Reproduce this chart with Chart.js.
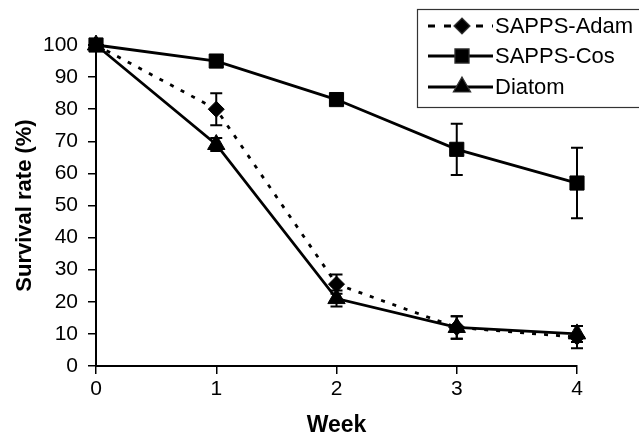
<!DOCTYPE html>
<html>
<head>
<meta charset="utf-8">
<script src="https://cdn.jsdelivr.net/npm/chart.js@4"></script>
<style>
  html, body { margin: 0; padding: 0; background: #fff; }
  #wrap { width: 639px; height: 441px; }
</style>
</head>
<body>
<div id="wrap"><canvas id="survivalChart" width="639" height="441"></canvas></div>
<script>
// weeks on the x axis and survival (%) per treatment, with standard errors
const weeks = [0, 1, 2, 3, 4];
const adamSurvival = [100, 80, 25.5, 12, 9];
const adamError = [0, 5, 3, 3.5, 3.5];
const cosSurvival = [100, 95, 83, 67.5, 57];
const cosError = [0, 0, 0, 8, 11];
const diatomSurvival = [100, 69, 21, 12, 10];
const diatomError = [0, 2, 2.5, 3.5, 2.5];
const seriesNames = ["SAPPS-Adam", "SAPPS-Cos", "Diatom"];

const FONT = "'Liberation Sans', Arial, sans-serif";

function toPoints(vals) {
    return weeks.map((w, i) => ({ x: w, y: vals[i] }));
}

// vertical error bars with caps
const errorBars = {
    id: "errorBars",
    afterDatasetsDraw(chart) {
        const ctx = chart.ctx;
        const yScale = chart.scales.y;
        chart.data.datasets.forEach((ds, i) => {
            const meta = chart.getDatasetMeta(i);
            ds.errors.forEach((e, j) => {
                if (!e) return;
                const v = ds.data[j].y;
                const x = meta.data[j].x;
                const top = yScale.getPixelForValue(v + e);
                const bot = yScale.getPixelForValue(v - e);
                ctx.save();
                ctx.strokeStyle = "#000";
                ctx.lineWidth = 2;
                ctx.beginPath();
                ctx.moveTo(x, top);
                ctx.lineTo(x, bot);
                ctx.moveTo(x - 6, top);
                ctx.lineTo(x + 6, top);
                ctx.moveTo(x - 6, bot);
                ctx.lineTo(x + 6, bot);
                ctx.stroke();
                ctx.restore();
            });
        });
    },
};

// boxed legend in the top right corner
const boxLegend = {
    id: "boxLegend",
    afterDraw(chart) {
        const ctx = chart.ctx;
        const rows = [26, 56, 87];
        ctx.save();
        ctx.strokeStyle = "#333";
        ctx.lineWidth = 1.2;
        ctx.strokeRect(417.5, 9.5, 240, 98);
        chart.data.datasets.forEach((ds, i) => {
            const y = rows[i];
            ctx.save();
            ctx.strokeStyle = "#000";
            ctx.lineWidth = ds.borderWidth;
            ctx.setLineDash(i === 0 ? [7, 9] : []);
            ctx.beginPath();
            ctx.moveTo(428, y);
            ctx.lineTo(493, y);
            ctx.stroke();
            ctx.restore();
            ctx.fillStyle = "#000";
            Chart.helpers.drawPoint(ctx, {
                pointStyle: ds.pointStyle,
                radius: ds.pointRadius,
                borderWidth: 1,
            }, 462, y);
            ctx.fillStyle = "#000";
            ctx.font = "22px " + FONT;
            ctx.textBaseline = "middle";
            ctx.textAlign = "left";
            ctx.fillText(seriesNames[i], 495, y + 1);
        });
        ctx.restore();
    },
};

const ctx = document.getElementById("survivalChart").getContext("2d");
new Chart(ctx, {
    type: "line",
    data: {
        datasets: [
            {
                label: seriesNames[0],
                data: toPoints(adamSurvival),
                errors: adamError,
                borderColor: "#000",
                backgroundColor: "#000",
                borderWidth: 2.8,
                borderDash: [4, 8],
                pointStyle: "rectRot",
                pointRadius: 8,
                pointBorderWidth: 1,
                clip: false,
            },
            {
                label: seriesNames[1],
                data: toPoints(cosSurvival),
                errors: cosError,
                borderColor: "#000",
                backgroundColor: "#000",
                borderWidth: 2.8,
                pointStyle: "rect",
                pointRadius: 10,
                pointBorderWidth: 1,
                clip: false,
            },
            {
                label: seriesNames[2],
                data: toPoints(diatomSurvival),
                errors: diatomError,
                borderColor: "#000",
                backgroundColor: "#000",
                borderWidth: 2.8,
                pointStyle: "triangle",
                pointRadius: 10,
                pointBorderWidth: 1,
                clip: false,
            },
        ],
    },
    options: {
        responsive: false,
        animation: false,
        layout: { padding: { top: 45, right: 62, left: 0, bottom: 0 } },
        plugins: {
            legend: { display: false },
            tooltip: { enabled: false },
        },
        scales: {
            x: {
                type: "linear",
                min: 0,
                max: 4,
                afterFit(s) { s.height = 75; },
                ticks: {
                    stepSize: 1,
                    color: "#000",
                    padding: 3,
                    font: { family: FONT, size: 21 },
                },
                grid: {
                    drawOnChartArea: false,
                    drawTicks: true,
                    tickLength: 8,
                    color: "#000",
                    lineWidth: 1.5,
                },
                border: { display: true, color: "#000", width: 2 },
                title: {
                    display: true,
                    text: "Week",
                    color: "#000",
                    font: { family: FONT, size: 23, weight: "bold" },
                    padding: { top: 0, bottom: 2 },
                },
            },
            y: {
                min: 0,
                max: 100,
                afterFit(s) { s.width = 96; },
                ticks: {
                    stepSize: 10,
                    color: "#000",
                    padding: 10,
                    font: { family: FONT, size: 21 },
                },
                grid: {
                    drawOnChartArea: false,
                    drawTicks: true,
                    tickLength: 8,
                    color: "#000",
                    lineWidth: 1.5,
                },
                border: { display: true, color: "#000", width: 2 },
                title: {
                    display: true,
                    text: "Survival rate (%)",
                    color: "#000",
                    font: { family: FONT, size: 22, weight: "bold" },
                    padding: { top: 12, bottom: 0 },
                },
            },
        },
    },
    plugins: [errorBars, boxLegend],
});
</script>
</body>
</html>
